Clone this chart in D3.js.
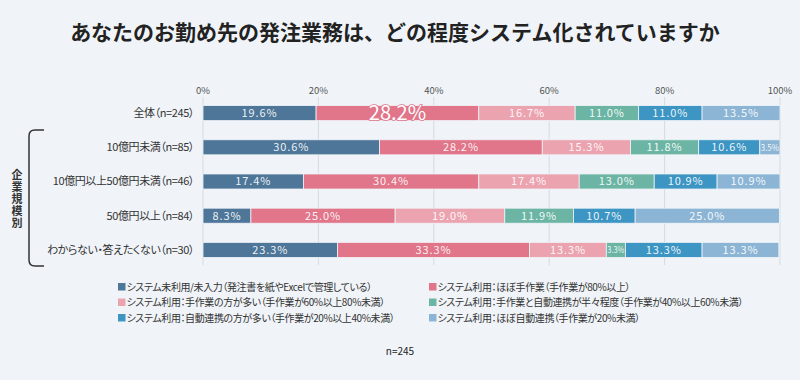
<!DOCTYPE html>
<html>
<head>
<meta charset="utf-8">
<script src="https://cdn.jsdelivr.net/npm/d3@7"></script>
<style>
  html, body { margin: 0; padding: 0; background: #f0f4f8; }
  svg { display: block; font-family: "Noto Sans CJK JP", "Noto Sans", sans-serif; }
</style>
</head>
<body>
<svg width="800" height="380"></svg>
<script>
const svg = d3.select('svg')
const width = +svg.attr('width')
const height = +svg.attr('height')

// data
const groups = ['全体（n=245）', '10億円未満（n=85）', '10億円以上50億円未満（n=46）', '50億円以上（n=84）', 'わからない・答えたくない（n=30）']
const seriesNames = [
  'システム未利用/未入力（発注書を紙やExcelで管理している）',
  'システム利用：ほぼ手作業（手作業が80%以上）',
  'システム利用：手作業の方が多い（手作業が60%以上80%未満）',
  'システム利用：手作業と自動連携が半々程度（手作業が40%以上60%未満）',
  'システム利用：自動連携の方が多い（手作業が20%以上40%未満）',
  'システム利用：ほぼ自動連携（手作業が20%未満）'
]
const noSystem   = [19.6, 30.6, 17.4, 8.3, 23.3]
const manual     = [28.2, 28.2, 30.4, 25.0, 33.3]
const mostManual = [16.7, 15.3, 17.4, 19.0, 13.3]
const half       = [11.0, 11.8, 13.0, 11.9, 3.3]
const mostAuto   = [11.0, 10.6, 10.9, 10.7, 13.3]
const auto       = [13.5, 3.5, 10.9, 25.0, 13.3]
const ticks = [0, 20, 40, 60, 80, 100]
const colors = ['#4d7699', '#e1758a', '#eca3b0', '#6cb5a4', '#3c95c3', '#8cb5d5']

const series = [noSystem, manual, mostManual, half, mostAuto, auto]
const table = groups.map((g, i) => {
  const row = { group: g }
  seriesNames.forEach((s, j) => { row[s] = series[j][i] })
  return row
})
const stacked = d3.stack().keys(seriesNames)(table)

const x = d3.scaleLinear().domain([0, 100]).range([203, 780])
const y = d3.scaleBand().domain(groups).range([96, 267]).paddingInner(0.56).paddingOuter(0.28)
const color = d3.scaleOrdinal().domain(seriesNames).range(colors)

// title
svg.append('text')
    .attr('x', 395).attr('y', 40)
    .attr('text-anchor', 'middle')
    .attr('font-size', 21).attr('font-weight', 'bold')
    .attr('fill', '#222')
    .text('あなたのお勤め先の発注業務は、どの程度システム化されていますか')

// grid + ticks
const grid = svg.append('g')
grid.selectAll('line').data(ticks).enter().append('line')
    .attr('x1', d => x(d)).attr('x2', d => x(d))
    .attr('y1', 97).attr('y2', 265)
    .attr('stroke', '#d6dbe1').attr('stroke-width', 1)
grid.selectAll('text').data(ticks).enter().append('text')
    .attr('x', d => x(d)).attr('y', 94)
    .attr('text-anchor', 'middle')
    .attr('font-size', 9.5).attr('fill', '#555')
    .text(d => d + '%')

// bars
const layers = svg.append('g').selectAll('g').data(stacked).enter().append('g')
    .attr('fill', d => color(d.key))
layers.selectAll('rect').data(d => d).enter().append('rect')
    .attr('x', d => x(d[0]))
    .attr('y', d => y(d.data.group))
    .attr('width', d => x(d[1]) - x(d[0]))
    .attr('height', y.bandwidth())
    .attr('stroke', '#f0f4f8').attr('stroke-width', 0.8)

// value labels
layers.selectAll('text').data(d => d.map(v => ({ v, key: d.key }))).enter().append('text')
    .each(function ({ v, key }) {
      const val = v[1] - v[0]
      const t = d3.select(this)
      const cx = (x(v[0]) + x(v[1])) / 2
      const cy = y(v.data.group) + y.bandwidth() / 2
      const w = x(v[1]) - x(v[0])
      t.attr('x', cx).attr('y', cy).attr('dy', '0.36em')
        .attr('text-anchor', 'middle').attr('fill', '#fff')
        .text(val.toFixed(1) + '%')
      if (v.data.group === groups[0] && key === seriesNames[1]) {
        // emphasized value
        t.attr('font-size', 20).attr('dy', '0.36em')
          .attr('stroke', '#e1758a').attr('stroke-width', 1.5).attr('paint-order', 'stroke')
      } else if (val < 5) {
        t.attr('font-size', 9.5).attr('textLength', w - 2).attr('lengthAdjust', 'spacingAndGlyphs')
          .attr('fill-opacity', 0.9)
      } else {
        t.attr('font-size', 11).attr('letter-spacing', 0.9).attr('fill-opacity', 0.92)
      }
    })

// row labels
svg.append('g').selectAll('text').data(groups).enter().append('text')
    .attr('x', 194).attr('y', d => y(d) + y.bandwidth() / 2).attr('dy', '0.36em')
    .attr('text-anchor', 'end')
    .attr('font-size', 11).attr('fill', '#333')
    .attr('letter-spacing', -0.4)
    .style('font-feature-settings', '"palt"')
    .text(d => d)

// bracket
svg.append('path')
    .attr('d', 'M44,130 H35 Q29,130 29,136 V260 Q29,266 35,266 H44')
    .attr('fill', 'none').attr('stroke', '#333').attr('stroke-width', 1.5)
svg.append('text')
    .attr('x', 17).attr('y', 199)
    .attr('text-anchor', 'middle')
    .style('writing-mode', 'vertical-rl')
    .attr('font-size', 11).attr('font-weight', 'bold').attr('fill', '#333')
    .attr('letter-spacing', 1)
    .text('企業規模別')

// legend
const legend = svg.append('g').selectAll('g').data(seriesNames).enter().append('g')
    .attr('transform', (d, i) => `translate(${i % 2 ? 429 : 118},${287 + Math.floor(i / 2) * 15.5})`)
legend.append('rect')
    .attr('x', 0).attr('y', -4).attr('width', 7.5).attr('height', 7.5)
    .attr('fill', d => color(d))
legend.append('text')
    .attr('x', 8.5).attr('y', 0).attr('dy', '0.36em')
    .attr('font-size', 10).attr('fill', '#333')
    .attr('letter-spacing', -0.4)
    .style('font-feature-settings', '"palt"')
    .text(d => d)

// sample size
svg.append('text')
    .attr('x', 400).attr('y', 351).attr('dy', '0.36em')
    .attr('text-anchor', 'middle')
    .attr('font-size', 10).attr('fill', '#222')
    .text('n=245')
</script>
</body>
</html>
